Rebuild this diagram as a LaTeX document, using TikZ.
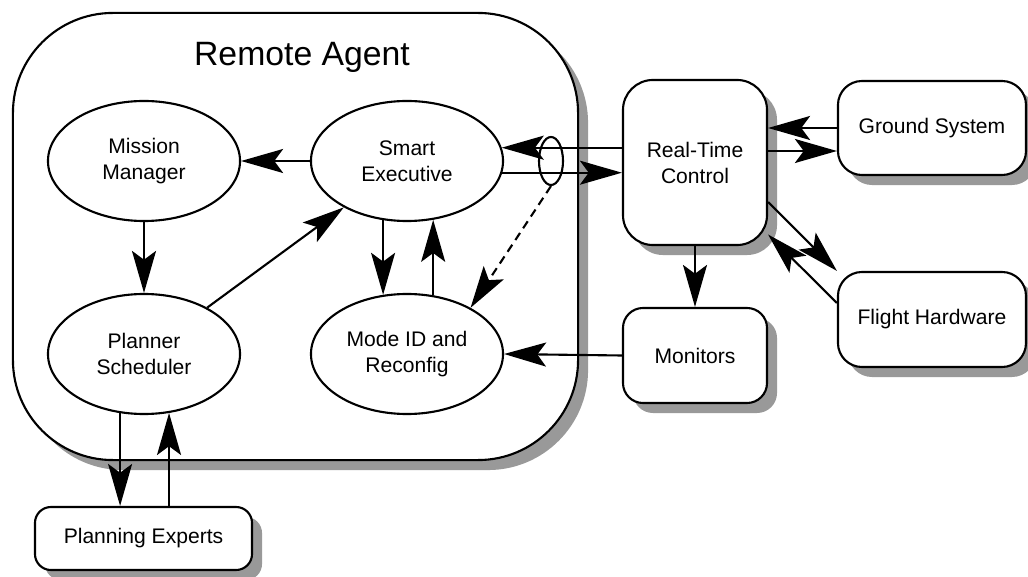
\documentclass[tikz,border=0pt]{standalone}
\usepackage{fontspec}
\setmainfont{Liberation Sans}
\usetikzlibrary{arrows.meta,shapes.geometric,shadows,calc}

\tikzset{
	shade box/.style={draw, line width=1.5pt, fill=white, rounded corners=0.5cm, align=center,
		drop shadow={shadow xshift=0.25cm, shadow yshift=-0.25cm, fill=black!40, opacity=1},
		font=\fontsize{15}{18.5}\selectfont},
	module/.style={draw, ellipse, line width=1.5pt, fill=white, minimum width=4.8cm,
		minimum height=3cm, align=center, font=\fontsize{15}{18.5}\selectfont},
	flow/.style={line width=1.5pt, -{Stealth[length=1.05cm, width=0.6cm, inset=0.22cm]}},
}

\begin{document}
\begin{tikzpicture}[x=0.025cm, y=-0.025cm]
		\useasboundingbox (0,0) rectangle (1028,577);

		\node[shade box, rounded corners=2.5cm, minimum width=14.125cm, minimum height=11.175cm] (agent) at (295.5,236.5) {};
		\node[font=\fontsize{24}{28}\selectfont] (title) at (302,57) {Remote Agent};

		\node[module] (mm) at (144,161) {Mission\\Manager};
		\node[module] (se) at (407,161) {Smart\\Executive};
		\node[module] (ps) at (144,354) {Planner\\Scheduler};
		\node[module] (mr) at (407,354) {Mode ID and\\Reconfig};
		\node[draw, ellipse, line width=1.5pt, minimum width=0.6cm, minimum height=1.2cm] (bundle) at (551,161) {};

		\node[shade box, rounded corners=0.75cm, minimum width=3.6cm, minimum height=4.125cm] (rtc) at (695,162.5) {Real-Time\\Control};
		\node[shade box, rounded corners=0.6cm, minimum width=4.7cm, minimum height=2.35cm] (gs) at (932,128) {Ground System};
		\node[shade box, rounded corners=0.6cm, minimum width=4.7cm, minimum height=2.375cm] (fh) at (932,319.5) {Flight Hardware};
		\node[shade box, minimum width=3.6cm, minimum height=2.375cm] (mon) at (695,355.5) {Monitors};
		\node[shade box, rounded corners=0.4cm, minimum width=5.425cm, minimum height=1.575cm] (pe) at (143.5,538.5) {Planning Experts};

		\coordinate (gsin) at ($(gs.west)+(0,23)$);
		\coordinate (rtcout) at ($(rtc.east)+(0,39.5)$);
		\coordinate (rtcin) at ($(rtc.east)+(0,72)$);
		\coordinate (fhout) at ($(fh.west)+(0,-16.5)$);

		\draw[flow] (se) -- (mm);
		\draw[flow] (mm) -- (ps);
		\draw[flow] (ps) -- (se);
		\draw[flow] (se.-112) -- (mr.112);
		\draw[flow] (mr.66) -- (se.-66);
		\draw[flow, dash pattern=on 6pt off 4pt] (bundle.south) -- (mr.36);

		% links to the real-time side
		\draw[flow] (se.8 -| rtc.west) -- (se.8);
		\draw[flow] (se.-7) -- (se.-7 -| rtc.west);
		\draw[flow] (gs.west) -- (gs.west -| rtc.east);
		\draw[flow] (gsin -| rtc.east) -- (gsin);
		\draw[flow] (rtcout) -- (fh.north west);
		\draw[flow] (fhout) -- (rtcin);
		\draw[flow] (rtc) -- (mon);
		\draw[flow] (mon.west) -- (mr.east);

		\draw[flow] (ps.-112.4) -- (ps.-112.4 |- pe.north);
		\draw[flow] (ps.-67.6 |- pe.north) -- (ps.-67.6);
	\end{tikzpicture}
\end{document}
